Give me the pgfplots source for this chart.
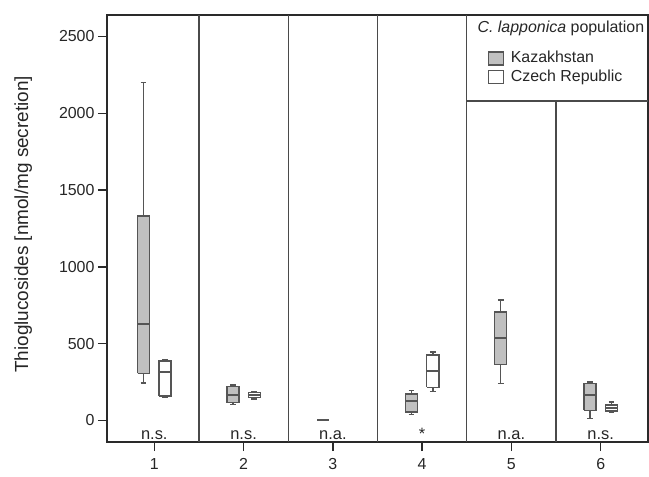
\documentclass[border=0pt]{standalone}
\usepackage{pgfplots}
\pgfplotsset{compat=1.18}
\usepackage{fontspec}
\setmainfont{Liberation Sans}
\definecolor{kazfill}{HTML}{C0C0C0}
\definecolor{boxdraw}{HTML}{555555}
\definecolor{frame}{HTML}{2A2A2A}
\definecolor{sep}{HTML}{4A4A4A}
\pgfplotsset{sqlegend/.style={legend image code/.code={\draw[##1] (0bp,-6.5bp) rectangle (15bp,6.5bp);}}}
% \bx{center}{lower whisker}{q1}{median}{q3}{upper whisker}{fill}
\newcommand{\bx}[7]{%
  \pgfmathsetmacro{\boxL}{#1-0.0675}\pgfmathsetmacro{\boxR}{#1+0.0675}%
  \pgfmathsetmacro{\capL}{#1-0.032}\pgfmathsetmacro{\capR}{#1+0.032}%
  \edef\tmp{%
    \noexpand\addplot[draw=boxdraw, line width=1.3bp, forget plot] coordinates {(#1,#5) (#1,#6)};
    \noexpand\addplot[draw=boxdraw, line width=1.5bp, forget plot] coordinates {(\capL,#6) (\capR,#6)};
    \noexpand\addplot[draw=boxdraw, line width=1.3bp, forget plot] coordinates {(#1,#3) (#1,#2)};
    \noexpand\addplot[draw=boxdraw, line width=1.5bp, forget plot] coordinates {(\capL,#2) (\capR,#2)};
    \noexpand\addplot[draw=boxdraw, fill=#7, line width=1.3bp, forget plot] coordinates {(\boxL,#3) (\boxR,#3) (\boxR,#5) (\boxL,#5) (\boxL,#3)};
    \noexpand\addplot[draw=boxdraw, line width=2bp, forget plot] coordinates {(\boxL,#4) (\boxR,#4)};
  }\tmp}
\begin{document}
\begin{tikzpicture}
\pgfplotsset{
  sepl/.style={draw=sep, line width=1.3bp, mark=none, forget plot},
}
\begin{axis}[
  scale only axis, width=541bp, height=427bp,
  xmin=0.47, xmax=6.53, ymin=-140, ymax=2640,
  axis line style={draw=frame, line width=1.6bp},
  xtick={1,2,3,4,5,6}, ytick={0,500,1000,1500,2000,2500},
  xtick pos=bottom, ytick pos=left, tick align=outside,
  major tick length=9bp,
  tick style={draw=frame, line width=1.3bp},
  /pgf/number format/1000 sep={},
  /pgf/number format/assume math mode=true,
  ticklabel style={font=\fontsize{16}{19}\selectfont, text=black!85},
  xticklabel style={yshift=-4bp},
  ylabel={Thioglucosides [nmol/mg secretion]},
  ylabel style={font=\fontsize{19}{22}\selectfont, text=black!85, at={(axis description cs:-0.155,0.51)}, anchor=center},
  legend style={at={(0.704,0.920)}, anchor=north west, draw=none, fill=none,
    font=\fontsize{16}{19}\selectfont, row sep=0bp, inner sep=0bp,
    nodes={inner sep=2bp, text height=11.5bp, text depth=3bp, text=black!85}},
  legend cell align=left,
  mark=none,
]
% separators and legend frame
\addplot[sepl] coordinates {(1.5,-140) (1.5,2640)};
\addplot[sepl] coordinates {(2.5,-140) (2.5,2640)};
\addplot[sepl] coordinates {(3.5,-140) (3.5,2640)};
\addplot[sepl] coordinates {(4.5,-140) (4.5,2640)};
\addplot[sepl] coordinates {(5.5,-140) (5.5,2080)};
\addplot[sepl] coordinates {(4.5,2080) (6.53,2080)};

% Kazakhstan
\bx{0.88}{245}{306}{625}{1331}{2199}{kazfill}
\bx{1.88}{105}{115}{163}{222}{232}{kazfill}
\addplot[draw=boxdraw, line width=2bp, forget plot] coordinates {(2.8225,0) (2.9575,0)};
\bx{3.88}{38}{55}{124}{172}{194}{kazfill}
\bx{4.88}{241}{364}{537}{707}{785}{kazfill}
\bx{5.88}{12}{66}{165}{243}{252}{kazfill}
% Czech Republic
\bx{1.12}{150}{160}{314}{388}{394}{white}
\bx{2.12}{140}{148}{168}{182}{190}{white}
\bx{4.12}{189}{215}{319}{427}{446}{white}
\bx{6.12}{55}{62}{83}{100}{120}{white}

\addlegendimage{sqlegend, fill=kazfill, draw=boxdraw, line width=1.3bp}
\addlegendentry{\ Kazakhstan}
\addlegendimage{sqlegend, fill=white, draw=boxdraw, line width=1.3bp}
\addlegendentry{\ Czech Republic}

\node[font=\fontsize{16}{19}\selectfont, text=black!85] at (rel axis cs:0.839,0.968) {\textit{C. lapponica} population};

\node[anchor=base, font=\fontsize{16.5}{19}\selectfont, text=black!85, inner sep=0pt] at (axis cs:1,-126) {n.s.};
\node[anchor=base, font=\fontsize{16.5}{19}\selectfont, text=black!85, inner sep=0pt] at (axis cs:2,-126) {n.s.};
\node[anchor=base, font=\fontsize{16.5}{19}\selectfont, text=black!85, inner sep=0pt] at (axis cs:3,-126) {n.a.};
\node[anchor=base, font=\fontsize{16.5}{19}\selectfont, text=black!85, inner sep=0pt] at (axis cs:4,-126) {*};
\node[anchor=base, font=\fontsize{16.5}{19}\selectfont, text=black!85, inner sep=0pt] at (axis cs:5,-126) {n.a.};
\node[anchor=base, font=\fontsize{16.5}{19}\selectfont, text=black!85, inner sep=0pt] at (axis cs:6,-126) {n.s.};
\end{axis}
\pgfresetboundingbox
\useasboundingbox ([shift={(-107bp,-35bp)}]current axis.south west) rectangle ([shift={(1bp,15bp)}]current axis.north east);
\end{tikzpicture}
\end{document}
